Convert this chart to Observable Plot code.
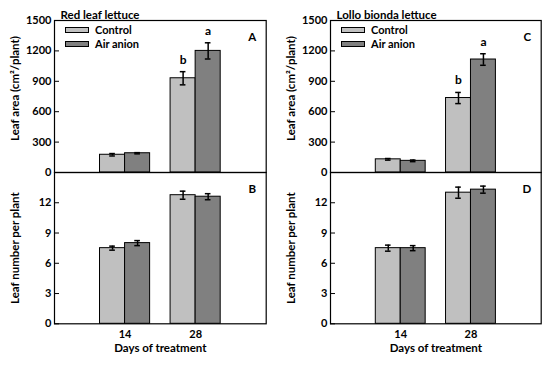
<!DOCTYPE html>
<html>
<head>
<meta charset="utf-8">
<script src="https://cdn.jsdelivr.net/npm/d3@7"></script>
<script src="https://cdn.jsdelivr.net/npm/@observablehq/plot@0.6"></script>
<style>
  html, body { margin: 0; padding: 0; background: #fff; }
  #chart { position: relative; width: 550px; height: 365px; font-family: Lato, "Open Sans", sans-serif; font-weight: bold; }
  #chart > .panel { position: absolute; }
  .legend { position: absolute; font-size: 11px; color: #000; }
  .legend .item { position: absolute; white-space: nowrap; height: 12px; line-height: 12px; }
  .legend .sw { position: absolute; left: 0; top: 3px; width: 22px; height: 4px; border: 1px solid #000; }
  .legend .lab { position: absolute; left: 30px; top: 0; }
</style>
</head>
<body>
<div id="chart"></div>
<script>
// ---- data ----
const days = ["14", "28"];
const treatments = ["Control", "Air anion"];
const colors = ["#c0c0c0", "#808080"];

const titles = ["Red leaf lettuce", "Lollo bionda lettuce"];
const panelLetters = [["A", "B"], ["C", "D"]];

// rows = days, columns = treatments
const redAreaMean = [[175, 190], [930, 1200]];
const redAreaErr = [[12, 6], [65, 80]];
const redAreaSig = [["", ""], ["b", "a"]];
const redLeafMean = [[7.5, 8.0], [12.75, 12.6]];
const redLeafErr = [[0.2, 0.25], [0.4, 0.3]];

const lolloAreaMean = [[130, 115], [735, 1115]];
const lolloAreaErr = [[8, 8], [55, 57]];
const lolloAreaSig = [["", ""], ["b", "a"]];
const lolloLeafMean = [[7.5, 7.5], [13.0, 13.3]];
const lolloLeafErr = [[0.3, 0.25], [0.55, 0.35]];

const areaTicks = [0, 300, 600, 900, 1200, 1500];
const leafTicks = [0, 3, 6, 9, 12];
const areaLabel = "Leaf area (cm²/plant)";
const leafLabel = "Leaf number per plant";
const xLabel = "Days of treatment";

// ---- build ----
const BW = 0.355; // bar width in category units
function rowsOf(mean, err, sig) {
  const out = [];
  days.forEach((d, i) => treatments.forEach((t, j) => {
    const c = i + 1;
    out.push({
      day: d, treatment: t, j,
      x1: c + (j - 1) * BW, x2: c + j * BW, cx: c + (j - 0.5) * BW,
      mean: mean[i][j], lo: mean[i][j] - err[i][j], hi: mean[i][j] + err[i][j],
      sig: sig ? sig[i][j] : ""
    });
  }));
  return out;
}

function panel({mean, err, sig, top, ticks, domain, yLabel, letter, title, col}) {
  const rows = rowsOf(mean, err, sig);
  const height = top ? 173 : 193;
  const marks = [
    Plot.rectY(rows, {x1: "x1", x2: "x2", y1: 0, y2: "mean", fill: d => colors[d.j], stroke: "#000", strokeWidth: 1}),
    Plot.ruleX(rows, {x: "cx", y1: "lo", y2: "hi", stroke: "#000", strokeWidth: 1.5}),
    Plot.ruleY(rows, {y: "hi", x1: d => d.cx - 0.04, x2: d => d.cx + 0.04, stroke: "#000", strokeWidth: 1.5}),
    Plot.ruleY(rows, {y: "lo", x1: d => d.cx - 0.04, x2: d => d.cx + 0.04, stroke: "#000", strokeWidth: 1.5}),
    Plot.text(rows.filter(d => d.sig), {x: "cx", y: "hi", text: "sig", dy: -8, fontSize: 12, fontWeight: "bold", lineAnchor: "bottom"}),
    Plot.frame({stroke: "#000", strokeWidth: 1.2}),
    Plot.axisY({ticks, tickSize: -5, tickPadding: 8, tickFormat: d => String(d), label: null, fontSize: 11, fontWeight: "bold"}),
    Plot.text([yLabel], {frameAnchor: "left", textAnchor: "middle", rotate: -90, dx: -39, dy: top ? -8 : 0, fontSize: 11.5, fontWeight: "bold"}),
    Plot.text([letter], {frameAnchor: "top-right", dx: -10, dy: 12, fontSize: 11.5, fontWeight: "bold"})
  ];
  if (title) marks.push(Plot.text([title], {frameAnchor: "top-left", textAnchor: "start", dx: 6, dy: -10, fontSize: 11.5, fontWeight: "bold"}));
  if (!top) {
    marks.push(Plot.axisX({ticks: [1, 2], tickFormat: d => days[d - 1], tickSize: 0, tickPadding: 6, fontSize: 11, fontWeight: "bold", label: null}));
    marks.push(Plot.text([xLabel], {frameAnchor: "bottom", textAnchor: "middle", dy: 28, fontSize: 11.5, fontWeight: "bold"}));
  }
  return Plot.plot({
    width: 275, height,
    marginLeft: col === 0 ? 54 : 55, marginRight: 9.3,
    marginTop: top ? 20 : 0, marginBottom: top ? 1 : 41.7,
    style: {fontFamily: "Lato, 'Open Sans', sans-serif", fontWeight: "bold", fontSize: "11px", background: "transparent", color: "#000", overflow: "visible"},
    x: {domain: [0, 3], axis: null},
    y: {domain, axis: null},
    marks
  });
}

const chart = document.getElementById("chart");
const specs = [
  {mean: redAreaMean, err: redAreaErr, sig: redAreaSig, top: true, ticks: areaTicks, domain: [0, 1500], yLabel: areaLabel, letter: panelLetters[0][0], title: titles[0], col: 0},
  {mean: redLeafMean, err: redLeafErr, sig: null, top: false, ticks: leafTicks, domain: [0, 15], yLabel: leafLabel, letter: panelLetters[0][1], col: 0},
  {mean: lolloAreaMean, err: lolloAreaErr, sig: lolloAreaSig, top: true, ticks: areaTicks, domain: [0, 1500], yLabel: areaLabel, letter: panelLetters[1][0], title: titles[1], col: 1},
  {mean: lolloLeafMean, err: lolloLeafErr, sig: null, top: false, ticks: leafTicks, domain: [0, 15], yLabel: leafLabel, letter: panelLetters[1][1], col: 1}
];
specs.forEach(s => {
  const el = panel(s);
  el.classList.add("panel");
  el.style.left = (s.col * 275) + "px";
  el.style.top = (s.top ? 0 : 172) + "px";
  chart.appendChild(el);
});

// legends (inside panels A and C)
[0, 1].forEach(col => {
  const lg = document.createElement("div");
  lg.className = "legend";
  lg.style.left = (col === 0 ? 65 : 341) + "px";
  lg.style.top = "24px";
  treatments.forEach((t, j) => {
    const it = document.createElement("div");
    it.className = "item";
    it.style.top = (j * 13.5) + "px";
    const sw = document.createElement("div");
    sw.className = "sw";
    sw.style.background = colors[j];
    const lab = document.createElement("div");
    lab.className = "lab";
    lab.textContent = t;
    it.appendChild(sw); it.appendChild(lab);
    lg.appendChild(it);
  });
  chart.appendChild(lg);
});
</script>
</body>
</html>
